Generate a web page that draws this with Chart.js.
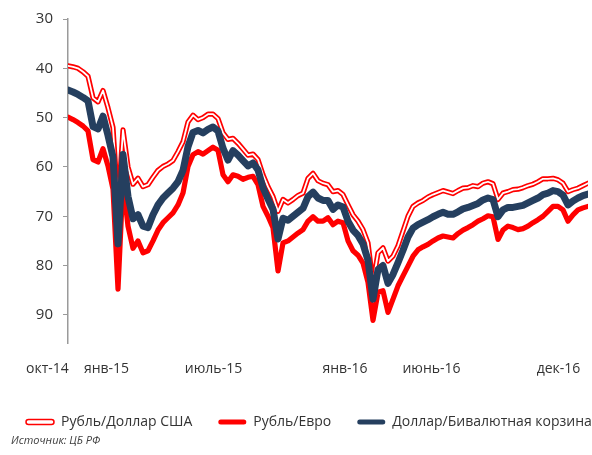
<!DOCTYPE html>
<html><head><meta charset="utf-8">
<script src="https://cdn.jsdelivr.net/npm/chart.js@4/dist/chart.umd.min.js"></script>
<style>html,body{margin:0;padding:0;background:#fff}#wrap{width:592px;height:455px;position:relative}</style>
</head><body><div id="wrap"><canvas id="c"></canvas></div>
<script>
const seriesNames = ['Рубль/Доллар США', 'Рубль/Евро', 'Доллар/Бивалютная корзина'];
const usd = [39.5,39.7,40.0,40.7,41.6,46.0,46.8,44.5,48.0,52.0,67.8,52.5,60.0,63.5,62.3,64.0,63.6,62.1,60.7,59.9,
  59.4,58.7,56.9,54.9,50.9,49.5,50.4,50.0,49.3,49.3,50.2,53.1,54.4,54.2,55.2,56.4,57.6,57.4,58.5,61.6,
  64.0,66.0,69.0,66.6,67.3,66.6,65.8,65.3,62.3,61.3,62.8,63.3,63.6,65.0,64.8,65.6,67.7,69.7,71.0,72.7,
  75.4,83.6,77.4,76.4,79.1,78.1,76.0,73.0,70.0,68.0,67.3,66.8,66.1,65.6,65.2,64.8,65.1,65.4,64.8,64.3,
  64.2,63.8,64.0,63.3,63.0,63.4,66.6,65.3,65.0,64.6,64.5,64.2,63.8,63.5,63.0,62.4,62.4,62.3,62.6,63.3,
  65.0,64.6,64.3,63.8,63.3];
const eur = [49.9,50.4,51.0,51.7,52.7,58.5,59.0,56.3,59.8,64.5,84.8,63.0,72.0,76.5,75.0,77.4,77.0,75.0,72.8,71.3,
  70.3,69.3,67.7,65.3,59.9,57.5,56.9,57.4,56.7,56.0,56.6,61.6,63.0,61.6,61.9,62.5,62.1,61.9,63.6,68.0,
  70.0,72.3,81.1,75.4,75.0,74.2,73.4,72.7,71.0,70.1,71.0,71.0,70.3,71.7,71.0,71.3,75.0,77.0,77.9,79.5,
  83.4,91.1,85.4,85.1,89.5,86.8,84.1,82.1,80.1,78.1,76.8,76.2,75.7,75.0,74.4,74.0,74.2,74.4,73.5,72.8,
  72.3,71.7,71.0,70.5,69.9,70.1,74.7,72.8,72.0,72.3,72.7,72.5,72.0,71.3,70.7,70.0,69.0,68.0,68.0,68.7,
  71.0,69.7,68.7,68.3,68.0];
const basket = [44.4,44.8,45.3,45.9,46.6,51.8,52.3,49.7,53.6,58.0,75.6,57.5,66.0,70.5,69.7,72.0,72.3,69.7,67.7,66.3,
  65.3,64.3,63.0,60.7,55.9,53.0,52.6,53.1,52.4,51.9,52.7,56.2,58.6,56.7,57.6,58.7,59.8,59.2,60.6,64.2,
  66.5,68.6,74.6,70.4,70.8,70.0,69.2,68.4,66.0,65.1,66.3,66.8,66.8,68.6,67.7,68.1,71.0,72.8,73.9,75.6,
  78.9,86.8,80.8,80.0,83.6,81.8,79.4,76.9,74.2,72.4,71.7,71.2,70.7,70.1,69.6,69.2,69.6,69.6,69.1,68.5,
  68.2,67.8,67.4,66.7,66.3,66.6,70.1,68.7,68.2,68.2,68.0,67.8,67.3,66.8,66.3,65.6,65.3,64.8,65.0,65.7,
  67.7,66.9,66.3,65.8,65.5];
const yTicks = [30, 40, 50, 60, 70, 80, 90];
const xTickPos = [-4.1, 7.7, 29.1, 55.4, 72.7, 98.1];
const xTickLabels = ['окт-14', 'янв-15', 'июль-15', 'янв-16', 'июнь-16', 'дек-16'];
const sourceText = 'Источник: ЦБ РФ';

const RED = '#ff0000', BLUE = '#253f5f', TXT = '#333333';
Chart.defaults.font.family = "'Open Sans', sans-serif";
Chart.defaults.color = TXT;

const layoutTweaks = {
  id: 'layoutTweaks',
  afterLayout(chart) {
    chart.boxes.forEach(b => {
      if (b.options && b.options.text === sourceText) { b.left += 11; b.right += 11; }
    });
    if (chart.legend) { chart.legend.right = chart.width + 200; }
  }
};

const line = (data, color, width, order) => ({
  data, borderColor: color, backgroundColor: color, borderWidth: width, order,
  pointRadius: 0, pointHoverRadius: 0, tension: 0, borderJoinStyle: 'round', borderCapStyle: 'round', fill: false
});

new Chart(document.getElementById('c'), {
  type: 'line',
  data: {
    labels: usd.map((_, i) => i),
    datasets: [
      Object.assign(line(usd, RED, 5.2, 4), {label: seriesNames[0]}),
      Object.assign(line(usd, '#ffffff', 1.8, 3), {label: seriesNames[0] + ' (inner)'}),
      Object.assign(line(eur, RED, 5.2, 2), {label: seriesNames[1]}),
      Object.assign(line(basket, BLUE, 7, 1), {label: seriesNames[2]})
    ]
  },
  options: {
    responsive: true, maintainAspectRatio: false, animation: false,
    devicePixelRatio: 1,
    layout: {padding: {left: 0, right: 4, top: 16, bottom: 7.4}},
    scales: {
      x: {
        type: 'linear', min: 0, max: usd.length - 1,
        grid: {display: false}, border: {display: false},
        afterBuildTicks(s) { s.ticks = xTickPos.map(v => ({value: v})); },
        afterFit(s) { s.height = 46; s.paddingLeft = 0; s.paddingRight = 0; },
        ticks: {autoSkip: false, maxRotation: 0, padding: 10, font: {size: 14}, color: TXT,
          callback: (v, i) => xTickLabels[i]}
      },
      y: {
        type: 'linear', reverse: true, min: 30, max: 95.7,
        afterBuildTicks(s) { s.ticks = yTicks.map(v => ({value: v})); },
        afterFit(s) { s.width = 68; },
        grid: {display: true, drawOnChartArea: false, drawTicks: true, tickLength: 5, color: '#9a9a9a', lineWidth: 1},
        border: {display: true, color: '#9a9a9a', width: 1.5},
        ticks: {padding: 10, font: {size: 15}, color: TXT}
      }
    },
    plugins: {
      tooltip: {enabled: false},
      legend: {
        position: 'bottom', align: 'start', maxHeight: 45.4,
        labels: {
          boxWidth: 28, boxHeight: 5, padding: 26, font: {size: 14}, color: TXT,
          useBorderRadius: true, borderRadius: 2.5,
          generateLabels: () => [
            {text: seriesNames[0], fillStyle: '#ffffff', strokeStyle: RED, lineWidth: 1.5, borderRadius: 2.5, datasetIndex: 0, fontColor: TXT},
            {text: seriesNames[1], fillStyle: RED, strokeStyle: RED, lineWidth: 0, borderRadius: 2.5, datasetIndex: 2, fontColor: TXT},
            {text: seriesNames[2], fillStyle: BLUE, strokeStyle: BLUE, lineWidth: 0, borderRadius: 2.5, datasetIndex: 3, fontColor: TXT}
          ]
        }
      },
      subtitle: {
        display: true, text: sourceText, position: 'bottom', align: 'start',
        font: {size: 11, style: 'italic'}, color: '#404040', padding: 0
      }
    }
  },
  plugins: [layoutTweaks]
});
</script>
</body></html>
